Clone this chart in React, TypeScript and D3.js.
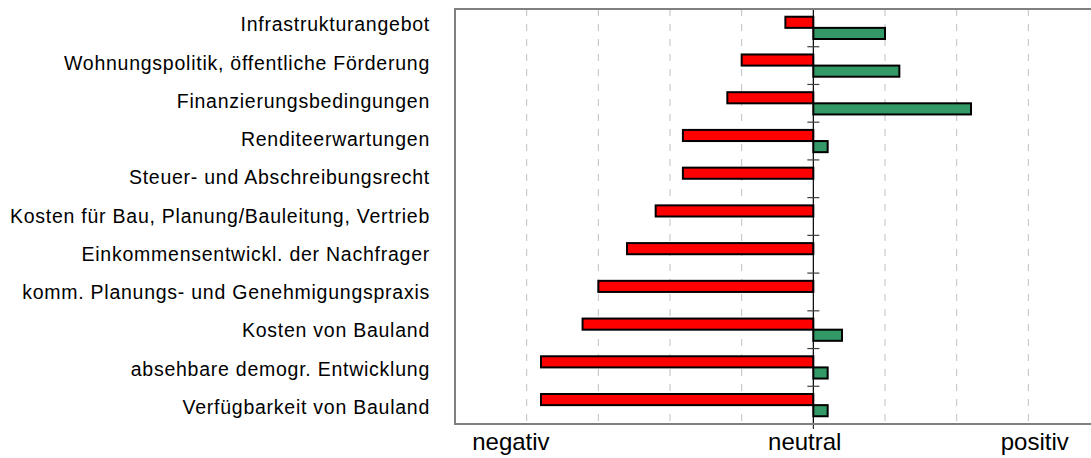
import React from "react";
import * as d3 from "d3";

const categories = [
  "Infrastrukturangebot",
  "Wohnungspolitik, öffentliche Förderung",
  "Finanzierungsbedingungen",
  "Renditeerwartungen",
  "Steuer- und Abschreibungsrecht",
  "Kosten für Bau, Planung/Bauleitung, Vertrieb",
  "Einkommensentwickl. der Nachfrager",
  "komm. Planungs- und Genehmigungspraxis",
  "Kosten von Bauland",
  "absehbare demogr. Entwicklung",
  "Verfügbarkeit von Bauland",
];
const negativeValues = [-0.39, -1.0, -1.2, -1.82, -1.82, -2.2, -2.6, -3.0, -3.22, -3.8, -3.8];
const positiveValues = [1.0, 1.2, 2.2, 0.2, 0, 0, 0, 0, 0.4, 0.2, 0.2];
const gridTicks = [-4, -3, -2, -1, 0, 1, 2, 3];
const axisLabels = ["negativ", "neutral", "positiv"];
const axisLabelValues = [-4.22, -0.12, 3.09];
const xDomain: [number, number] = [-5, 4];

const W = 1091;
const H = 458;
const plot = { left: 455, right: 1100, top: 9, bottom: 424 };
const FONT = "'Liberation Sans', Arial, sans-serif";

export default function App() {
  const x = d3.scaleLinear().domain(xDomain).range([plot.left, plot.right]);
  const y = d3
    .scaleBand<string>()
    .domain(categories)
    .range([plot.top, plot.bottom])
    .paddingInner(0.41)
    .paddingOuter(0.205);
  const sub = d3
    .scaleBand<string>()
    .domain(["neg", "pos"])
    .range([0, y.bandwidth()]);
  const labelY = d3.scalePoint<string>().domain(categories).range([24.5, 407]);
  const step = y.step();
  const boundaries = d3.range(categories.length + 1).map((i) => plot.top + i * step);

  return (
    <svg
      width={W}
      height={H}
      style={{ position: "absolute", left: 0, top: 0, background: "#fff" }}
      fontFamily={FONT}
    >
      <rect x={0} y={0} width={W} height={H} fill="#fff" />
      {gridTicks
        .filter((t) => t !== 0)
        .map((t) => (
          <line
            key={t}
            x1={x(t)}
            x2={x(t)}
            y1={plot.top}
            y2={plot.bottom}
            stroke="#c0c0c0"
            strokeWidth={1}
            strokeDasharray="7,8"
          />
        ))}
      {categories.map((c, i) => {
        const y0 = y(c)!;
        const nv = negativeValues[i];
        const pv = positiveValues[i];
        return (
          <g key={c}>
            <rect
              x={x(nv)}
              y={y0 + sub("neg")!}
              width={x(0) - x(nv)}
              height={sub.bandwidth()}
              fill="#ff0000"
              stroke="#000"
              strokeWidth={2}
            />
            {pv !== 0 && (
              <rect
                x={x(0)}
                y={y0 + sub("pos")!}
                width={x(pv) - x(0)}
                height={sub.bandwidth()}
                fill="#339966"
                stroke="#000"
                strokeWidth={2}
              />
            )}
          </g>
        );
      })}
      <line x1={x(0)} x2={x(0)} y1={plot.top} y2={plot.bottom} stroke="#000" strokeWidth={1.2} />
      {boundaries.map((b, i) => (
        <line key={i} x1={x(0) - 6} x2={x(0) + 6} y1={b} y2={b} stroke="#404040" strokeWidth={1.2} />
      ))}
      <line x1={x(0)} x2={x(0)} y1={plot.bottom} y2={plot.bottom + 5} stroke="#000" strokeWidth={1} />
      <rect
        x={plot.left}
        y={plot.top}
        width={plot.right - plot.left}
        height={plot.bottom - plot.top}
        fill="none"
        stroke="#808080"
        strokeWidth={2}
      />
      {categories.map((c) => (
        <text
          key={c}
          x={430}
          y={labelY(c)!}
          dy="0.35em"
          textAnchor="end"
          fontSize={19.5}
          letterSpacing="0.75px"
          fill="#000"
        >
          {c}
        </text>
      ))}
      {axisLabels.map((l, i) => (
        <text key={l} x={x(axisLabelValues[i])} y={450} textAnchor="middle" fontSize={24} fill="#000">
          {l}
        </text>
      ))}
    </svg>
  );
}
